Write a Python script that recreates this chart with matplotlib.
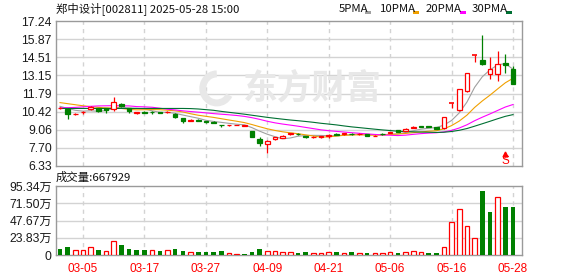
import numpy as np
import matplotlib
matplotlib.use('Agg')
import matplotlib.pyplot as plt
from matplotlib.patches import Rectangle, Arc

plt.rcParams['font.family'] = ['Liberation Sans', 'Noto Sans CJK SC']

# ---- data ----
dates = ['02-28', '03-03', '03-04', '03-05', '03-06', '03-07', '03-10', '03-11', '03-12', '03-13',
         '03-14', '03-17', '03-18', '03-19', '03-20', '03-21', '03-24', '03-25', '03-26', '03-27',
         '03-28', '03-31', '04-01', '04-02', '04-03', '04-07', '04-08', '04-09', '04-10', '04-11',
         '04-14', '04-15', '04-16', '04-17', '04-18', '04-21', '04-22', '04-23', '04-24', '04-25',
         '04-28', '04-29', '04-30', '05-06', '05-07', '05-08', '05-09', '05-12', '05-13', '05-14',
         '05-15', '05-16', '05-19', '05-20', '05-21', '05-22', '05-23', '05-26', '05-27', '05-28']

opens = [10.66, 10.64, 10.24, 10.36, 10.62, 10.67, 10.66, 10.60, 11.03, 10.68,
         10.33, 10.40, 10.42, 10.37, 10.36, 10.27, 9.95, 9.74, 9.78, 9.70,
         9.64, 9.42, 9.38, 9.39, 9.36, 8.98, 8.37, 7.99, 8.34, 8.45,
         8.72, 8.76, 8.56, 8.50, 8.50, 8.55, 8.74, 8.74, 8.77, 8.72,
         8.74, 8.58, 8.76, 8.80, 9.04, 9.00, 9.20, 9.34, 9.33, 9.26,
         9.16, 11.04, 10.56, 11.95, 14.69, 14.30, 13.25, 13.25, 14.05, 13.62]
highs = [10.74, 10.70, 10.35, 10.45, 10.84, 10.72, 10.70, 11.55, 11.10, 10.72,
         10.42, 10.44, 10.44, 10.38, 10.44, 10.30, 9.97, 9.83, 9.88, 9.74,
         9.68, 9.45, 9.42, 9.42, 9.45, 8.99, 8.48, 8.26, 8.50, 8.68,
         8.84, 8.80, 8.60, 8.58, 8.58, 8.72, 8.80, 8.82, 8.80, 8.78,
         8.76, 8.66, 8.78, 8.92, 9.06, 9.16, 9.34, 9.36, 9.35, 9.28,
         10.04, 11.04, 12.14, 13.35, 14.69, 16.16, 14.51, 14.98, 14.76, 13.82]
lows = [10.62, 9.89, 10.18, 10.24, 10.58, 10.36, 10.34, 10.46, 10.79, 10.34,
        10.28, 10.30, 10.26, 10.30, 10.33, 9.91, 9.54, 9.70, 9.72, 9.58,
        9.53, 9.26, 9.36, 9.38, 9.33, 8.48, 7.80, 7.33, 8.32, 8.42,
        8.68, 8.66, 8.40, 8.46, 8.44, 8.45, 8.66, 8.70, 8.70, 8.70,
        8.56, 8.56, 8.68, 8.78, 8.86, 8.98, 9.16, 9.24, 9.24, 9.10,
        9.12, 10.67, 10.50, 11.90, 14.18, 13.92, 12.85, 12.72, 13.35, 12.51]
closes = [10.70, 10.27, 10.28, 10.42, 10.76, 10.48, 10.56, 11.12, 10.86, 10.44,
          10.37, 10.35, 10.38, 10.34, 10.40, 9.99, 9.72, 9.77, 9.74, 9.62,
          9.56, 9.38, 9.40, 9.41, 9.39, 8.50, 8.06, 8.24, 8.49, 8.60,
          8.80, 8.72, 8.52, 8.54, 8.56, 8.70, 8.69, 8.78, 8.73, 8.76,
          8.58, 8.62, 8.72, 8.90, 8.89, 9.12, 9.28, 9.30, 9.28, 9.13,
          10.04, 11.04, 12.14, 13.35, 14.69, 14.00, 13.63, 14.00, 13.90, 12.51]
prev_close = 10.85  # close before the first visible day

# volume in 万 shares
volumes = [8.0, 10.5, 6.5, 6.5, 10.5, 7.0, 5.5, 20.0, 14.5, 8.0,
           7.0, 7.0, 6.5, 5.5, 6.5, 8.0, 5.0, 4.0, 4.0, 4.0,
           4.5, 5.5, 2.5, 1.2, 1.5, 4.0, 8.0, 6.0, 5.0, 3.5,
           3.5, 3.0, 4.0, 2.5, 2.5, 3.5, 4.0, 2.5, 4.0, 2.5,
           2.5, 2.5, 2.5, 3.5, 2.5, 3.5, 5.0, 3.5, 2.5, 2.5,
           10.6, 45.1, 63.1, 40.0, 23.0, 88.4, 59.4, 80.1, 66.3, 66.79]

# moving-average values before enough closes are on screen
ma5_head = [10.82, 10.66, 10.52, 10.46]
ma10_head = [11.10, 11.02, 10.94, 10.86, 10.80, 10.74, 10.70, 10.69, 10.66]
ma20_head = [10.70, 10.72, 10.74, 10.78, 10.82, 10.85, 10.86, 10.87, 10.86, 10.85,
             10.80, 10.78, 10.75, 10.68, 10.60, 10.55, 10.48, 10.43, 10.38]
ma30_head = [10.66, 10.66, 10.66, 10.66, 10.66, 10.66, 10.66, 10.66, 10.66, 10.66,
             10.66, 10.66, 10.66, 10.66, 10.66, 10.66, 10.66, 10.65, 10.62, 10.57,
             10.52, 10.44, 10.37, 10.30, 10.23, 10.15, 10.07, 9.99, 9.92]

price_ticks = ['6.33', '7.70', '9.06', '10.42', '11.79', '13.15', '14.51', '15.87', '17.24']
vol_ticks = ['0', '23.83万', '47.67万', '71.50万', '95.34万']
ma_names = ['5PMA', '10PMA', '20PMA', '30PMA']

RED = '#ff0000'
GREEN = '#008000'
GRID = '#d3d3d3'
FRAME = '#9a9a9a'
ma_colors = ['#a0a0a0', '#f0a000', '#ff00ff', '#007033']


def moving_avg(vals, n, head):
    out = list(head)
    for i in range(len(head), len(vals)):
        out.append(np.mean(vals[i - n + 1:i + 1]))
    return out


mas = [moving_avg(closes, 5, ma5_head), moving_avg(closes, 10, ma10_head),
       moving_avg(closes, 20, ma20_head), moving_avg(closes, 30, ma30_head)]

x = np.arange(len(dates))
prevs = [prev_close] + closes[:-1]

fig = plt.figure(figsize=(5.78, 2.76), dpi=100)
W, H = 578, 276
ax = fig.add_axes([56 / W, 1 - 166 / H, 466 / W, 145 / H])
axv = fig.add_axes([56 / W, 1 - 255 / H, 466 / W, 69 / H])

xlim = (-0.52, 60.17)
label_idx = list(range(3, len(dates), 8))

for a in (ax, axv):
    a.set_xlim(*xlim)
    for s in a.spines.values():
        s.set_color(FRAME)
        s.set_linewidth(1.0)
    for i in label_idx:
        a.axvline(i, color=GRID, lw=1.0, ls=(0, (3, 3)), zorder=0)
    a.tick_params(length=0)

# price panel
pmin, pmax = 6.33, 17.24
ax.set_ylim(pmin, pmax)
pt = np.linspace(pmin, pmax, len(price_ticks))
ax.set_yticks(pt, price_ticks)
for v in pt[1:-1]:
    ax.axhline(v, color=GRID, lw=1.0, zorder=0)
ax.set_xticks([])
ax.tick_params(axis='y', labelsize=8.7, labelcolor='#1a1a1a', pad=3)

# watermark
ax.text(0.55, 0.535, '东方财富', transform=ax.transAxes, fontsize=25, fontweight='bold',
        family=['Noto Sans CJK SC'], color='#e8e8e8', ha='center', va='center', zorder=0)
ax.add_patch(Arc((0.345, 0.535), 0.06, 0.2, theta1=90, theta2=300, transform=ax.transAxes,
                 color='#e8e8e8', lw=5, zorder=0))

for k in range(4):
    ax.plot(x, mas[k], color=ma_colors[k], lw=0.8, zorder=2)

bw = 0.6
for i in x:
    o, h, l, c = opens[i], highs[i], lows[i], closes[i]
    if c > o:
        col = RED
    elif c < o:
        col = GREEN
    else:
        col = RED if c >= prevs[i] else GREEN
    top, bot = max(o, c), min(o, c)
    ax.vlines(i, top, h, color=col, lw=0.9, zorder=3)
    ax.vlines(i, l, bot, color=col, lw=0.9, zorder=3)
    if c == o:
        ax.hlines(c, i - bw / 2, i + bw / 2, color=col, lw=1.2, zorder=3)
    elif col == RED:
        ax.add_patch(Rectangle((i - bw / 2, bot), bw, top - bot, facecolor='white',
                               edgecolor=col, lw=0.9, zorder=3))
    else:
        ax.add_patch(Rectangle((i - bw / 2, bot), bw, top - bot, facecolor=col,
                               edgecolor=col, lw=0.9, zorder=3))

# sell marker
ax.plot(58, 7.22, marker='^', ms=3.5, color=RED, zorder=4)
ax.vlines(58, 6.98, 7.22, color=RED, lw=1.0, zorder=4)
ax.text(58, 6.72, 'S', color=RED, fontsize=8.5, ha='center', va='center', zorder=4)

# volume panel
vmax = 95.34
axv.set_ylim(0, vmax)
vt = np.linspace(0, vmax, len(vol_ticks))
axv.set_yticks(vt, vol_ticks)
for v in vt[1:-1]:
    axv.axhline(v, color=GRID, lw=1.0, zorder=0)
axv.tick_params(axis='y', labelsize=8.7, labelcolor='#1a1a1a', pad=3)
axv.set_xticks(label_idx, [dates[i] for i in label_idx])
axv.tick_params(axis='x', labelsize=8.5, labelcolor=RED, pad=6)

for i in x:
    up = closes[i] >= prevs[i]
    if up:
        axv.bar(i, volumes[i], width=bw, facecolor='white', edgecolor=RED, lw=0.9, zorder=3)
    else:
        axv.bar(i, volumes[i], width=bw, color=GREEN, lw=0, zorder=3)

# header texts
fig.text(56 / W, 1 - 9 / H, '郑中设计[002811] 2025-05-28 15:00', fontsize=8.2,
         family=['Noto Sans CJK SC'], color='#111111', ha='left', va='center')
fig.text(56 / W, 1 - 177 / H, '成交量:667929', fontsize=8.2,
         family=['Noto Sans CJK SC'], color='#111111', ha='left', va='center')

leg_x = [339, 380, 426, 472]
sq_x = [365, 413, 460, 506]
for k in range(4):
    fig.text(leg_x[k] / W, 1 - 9 / H, ma_names[k], fontsize=8.2, color='#111111',
             family=['Noto Sans CJK SC'], ha='left', va='center')
    fig.patches.append(Rectangle((sq_x[k] / W, 1 - 14 / H), 6 / W, 3 / H,
                                 transform=fig.transFigure, facecolor=ma_colors[k],
                                 edgecolor='none'))

fig.savefig('out.png', dpi=100)
